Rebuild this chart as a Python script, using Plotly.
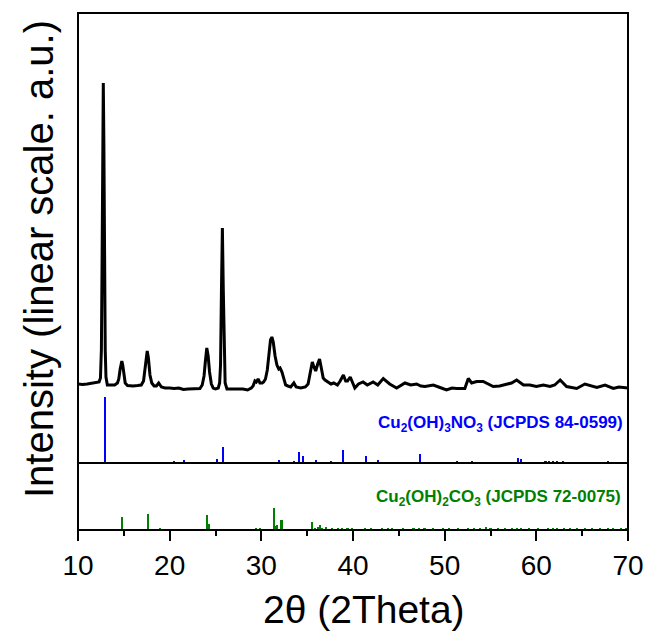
import plotly.graph_objects as go

# ---- measured XRD pattern (2theta, intensity a.u.) ----
two_theta = [10.0, 10.5, 11.0, 11.5, 12.0, 12.3, 12.45, 12.55, 12.62, 12.7, 12.76, 12.82, 12.9, 12.97, 13.05,
             13.2, 13.5, 14.0, 14.3, 14.45, 14.6, 14.7, 14.78, 14.88, 15.0, 15.15, 15.4, 16.0, 16.5, 16.9,
             17.15, 17.3, 17.45, 17.55, 17.68, 17.85, 18.05, 18.3, 18.55, 18.8, 19.1, 19.5, 20.0, 20.5, 21.0,
             21.5, 22.0, 22.5, 23.0, 23.3, 23.55, 23.75, 23.9, 24.05, 24.2, 24.35, 24.55, 24.75, 25.0, 25.3,
             25.45, 25.55, 25.65, 25.75, 25.85, 25.95, 26.05, 26.25, 26.5, 27.0, 27.5, 28.0, 28.5, 28.9, 29.1,
             29.3, 29.45, 29.65, 29.85, 30.1, 30.25, 30.45, 30.65, 30.85, 31.0, 31.15, 31.3, 31.5, 31.7, 31.9,
             32.05, 32.25, 32.45, 32.65, 32.9, 33.2, 33.55, 33.8, 34.3, 34.8, 35.1, 35.3, 35.45, 35.56, 35.7,
             35.93, 36.15, 36.35, 36.5, 36.75, 36.95, 37.3, 37.6, 37.9, 38.3, 38.6, 38.95, 39.2, 39.4, 39.7,
             40.2, 40.6, 41.1, 41.56, 42.2, 42.7, 43.3, 44.0, 44.76, 45.67, 46.3, 46.94, 47.4, 47.85, 48.76,
             49.49, 50.2, 50.8, 51.3, 52.2, 52.58, 52.94, 53.5, 54.2, 54.8, 55.3, 56.0, 56.76, 57.3, 57.85,
             58.6, 59.3, 60.0, 60.76, 61.5, 62.0, 62.6, 63.3, 64.4, 65.3, 66.0, 66.6, 67.5, 68.4, 69.0,
             69.67, 70.0]
intensity = [790, 785, 790, 795, 800, 810, 850, 1130, 1930, 3230, 3800, 3230, 1930, 1130, 860,
             780, 780, 780, 800, 840, 940, 1010, 1020, 980, 870, 800, 775, 770, 775, 780,
             820, 930, 1080, 1120, 1050, 880, 800, 770, 770, 800, 760, 750, 750, 745, 750,
             735, 740, 740, 740, 745, 780, 870, 1020, 1150, 1070, 910, 790, 750, 740, 750,
             800, 980, 1730, 2350, 1730, 980, 800, 740, 740, 735, 735, 740, 730, 750, 770,
             820, 810, 840, 800, 800, 810, 840, 930, 1110, 1230, 1260, 1210, 1070, 980, 940,
             950, 910, 830, 780, 770, 760, 800, 760, 750, 760, 790, 880, 980, 1010, 970,
             920, 990, 1040, 970, 850, 830, 810, 790, 800, 780, 820, 880, 820, 820, 860,
             750, 790, 810, 780, 810, 780, 845, 790, 750, 800, 780, 790, 770, 765, 780,
             755, 730, 750, 745, 745, 845, 800, 815, 815, 790, 765, 770, 790, 800, 830,
             780, 780, 765, 780, 765, 780, 830, 765, 745, 790, 770, 755, 780, 745, 760,
             755, 750]

# ---- reference pattern Cu2(OH)3NO3, JCPDS 84-0599 ----
ref1_pos = [12.91, 20.47, 21.56, 22.5, 25.16, 25.86, 29.7, 30.4, 31.96, 32.65, 33.56, 34.15, 34.58, 35.2,
            36.0, 37.57, 38.91, 41.42, 42.68, 47.3, 51.3, 52.95, 58.05, 58.3, 59.5, 60.3, 61.0, 61.4,
            61.8, 62.3, 62.9, 63.4, 64.2, 65.0, 66.1, 67.2, 67.8, 68.4]
ref1_int = [100, 2, 5, 1.5, 6, 23.5, 1.5, 1.5, 5, 1.5, 3, 17, 11, 1.5,
            5, 2.5, 20, 11, 4, 13, 3.5, 2.5, 8, 6, 1.5, 1.5, 2, 2.5,
            2, 2, 2.5, 1.5, 1.5, 1, 1, 1.5, 2, 1.5]

# ---- reference pattern Cu2(OH)2CO3, JCPDS 72-0075 ----
ref2_pos = [12.0, 14.84, 17.6, 18.9, 20.4, 24.07, 24.26, 27.9, 28.9, 29.45, 29.9, 31.35, 31.57, 31.75,
            32.2, 34.7, 35.56, 35.9, 36.2, 36.35, 36.6, 37.1, 37.75, 38.36, 38.85, 39.4, 39.9, 41.3,
            42.0, 43.2, 43.8, 44.3, 45.5, 46.6, 47.2, 47.8, 48.7, 49.8, 50.5, 51.5, 52.5, 53.2,
            53.9, 54.5, 55.0, 55.8, 56.6, 57.3, 57.9, 58.3, 59.2, 60.2, 61.3, 61.8, 62.3, 63.0,
            63.7, 64.4, 65.3, 66.1, 66.9, 67.8, 68.4, 69.2, 69.8]
ref2_int = [2, 58, 70, 6, 2, 69, 26, 2, 2, 10, 10, 100, 19, 22,
            45, 2, 37, 9, 13, 22, 11, 13, 7, 9, 9, 11, 9, 11,
            7, 9, 11, 9, 7, 7, 9, 7, 7, 5, 7, 7, 7, 7,
            9, 13, 9, 7, 7, 9, 7, 11, 7, 7, 7, 9, 9, 11,
            7, 7, 7, 9, 7, 7, 7, 7, 9]

ref1_label = "<b>Cu<sub>2</sub>(OH)<sub>3</sub>NO<sub>3</sub> (JCPDS 84-0599)</b>"
ref2_label = "<b>Cu<sub>2</sub>(OH)<sub>2</sub>CO<sub>3</sub> (JCPDS 72-0075)</b>"
x_title = "2θ (2Theta)"
y_title = "Intensity (linear scale. a.u.)"
x_ticks = [10, 20, 30, 40, 50, 60, 70]

FONT = "Liberation Sans, Arial, sans-serif"
g = 67 / 517  # height fraction of the lower panel

fig = go.Figure()
fig.add_trace(go.Scatter(x=two_theta, y=intensity, mode="lines", xaxis="x", yaxis="y",
                         line=dict(color="black", width=3), showlegend=False))
fig.add_trace(go.Bar(x=ref1_pos, y=ref1_int, width=0.22, xaxis="x", yaxis="y2",
                     marker=dict(color="#0000FF", line=dict(width=0)), showlegend=False))
fig.add_trace(go.Bar(x=ref2_pos, y=ref2_int, width=0.22, xaxis="x", yaxis="y3",
                     marker=dict(color="#008000", line=dict(width=0)), showlegend=False))

fig.update_layout(
    width=648, height=634,
    margin=dict(l=78, r=20, t=13, b=104),
    paper_bgcolor="white", plot_bgcolor="rgba(0,0,0,0)",
    barmode="overlay", bargap=0,
    font=dict(family=FONT, color="black"),
    xaxis=dict(domain=[0, 1], anchor="y3", range=[10, 70], tickvals=x_ticks, automargin=False,
               ticks="outside", ticklen=10, tickwidth=2, tickcolor="black",
               minor=dict(dtick=5, tick0=0, ticks="outside", ticklen=5, tickwidth=2, tickcolor="black"),
               showgrid=False, zeroline=False, showline=False,
               tickfont=dict(size=28, family=FONT, color="black")),
    yaxis=dict(domain=[g, 1], range=[0, 4500], visible=False),
    yaxis2=dict(domain=[g, 1], range=[0, 100 * 450 / 66], visible=False, overlaying="y"),
    yaxis3=dict(domain=[0, g], range=[0, 300], visible=False),
    shapes=[
        dict(type="rect", xref="paper", yref="paper", x0=0, x1=1, y0=0, y1=1,
             line=dict(color="black", width=2), layer="above"),
        dict(type="line", xref="paper", yref="paper", x0=0, x1=1, y0=g, y1=g,
             line=dict(color="black", width=2), layer="above"),
    ],
    annotations=[
        dict(text=ref1_label, xref="paper", yref="paper", x=0.995, y=(530 - 424) / 517,
             xanchor="right", yanchor="middle", showarrow=False,
             font=dict(size=17, color="#0000FF", family=FONT)),
        dict(text=ref2_label, xref="paper", yref="paper", x=0.99, y=(530 - 498) / 517,
             xanchor="right", yanchor="middle", showarrow=False,
             font=dict(size=17, color="#008000", family=FONT)),
        dict(text=x_title, xref="paper", yref="paper", x=0.52, y=(530 - 609) / 517,
             xanchor="center", yanchor="middle", showarrow=False,
             font=dict(size=39, color="black", family=FONT)),
        dict(text=y_title, xref="paper", yref="paper", x=(39 - 78) / 550, y=(530 - 259) / 517,
             xanchor="center", yanchor="middle", showarrow=False, textangle=-90,
             font=dict(size=40, color="black", family=FONT)),
    ],
)

fig.write_html("out.html", config={"displayModeBar": False},
               post_script="document.body.style.margin='0';document.body.style.overflow='hidden';")
